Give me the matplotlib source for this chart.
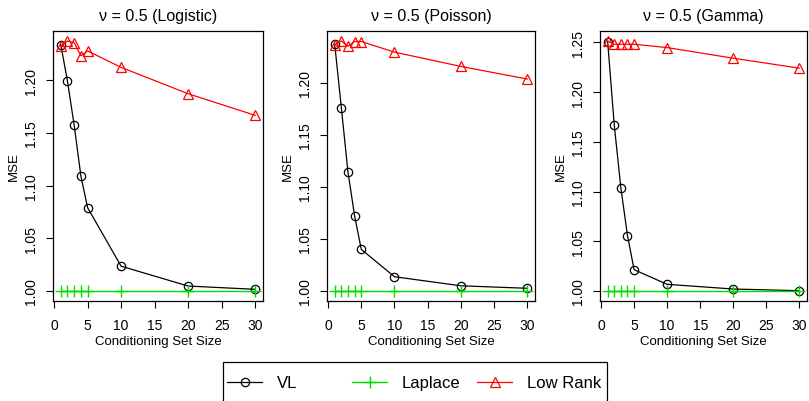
import matplotlib
matplotlib.use("Agg")
import matplotlib.pyplot as plt
import numpy as np
from matplotlib.patches import Rectangle
from matplotlib.lines import Line2D

plt.rcParams['font.family'] = ['Liberation Sans', 'DejaVu Sans']

# conditioning set sizes
m = [1, 2, 3, 4, 5, 10, 20, 30]

titles = ["ν = 0.5 (Logistic)", "ν = 0.5 (Poisson)", "ν = 0.5 (Gamma)"]

# MSE values
vl_logistic = [1.2335, 1.199, 1.157, 1.109, 1.079, 1.0235, 1.0047, 1.0016]
lr_logistic = [1.232, 1.237, 1.2355, 1.223, 1.2276, 1.212, 1.187, 1.1665]

vl_poisson = [1.237, 1.176, 1.114, 1.072, 1.040, 1.0137, 1.005, 1.0026]
lr_poisson = [1.2364, 1.240, 1.235, 1.2395, 1.2395, 1.2293, 1.2156, 1.2035]

vl_gamma = [1.2506, 1.1666, 1.1035, 1.0557, 1.0214, 1.0067, 1.002, 1.0003]
lr_gamma = [1.2513, 1.248, 1.248, 1.248, 1.248, 1.2447, 1.234, 1.224]

laplace = [1.0, 1.0, 1.0, 1.0, 1.0, 1.0, 1.0, 1.0]

vl_all = [vl_logistic, vl_poisson, vl_gamma]
lr_all = [lr_logistic, lr_poisson, lr_gamma]

fig = plt.figure(figsize=(8.09, 4.02), dpi=100)

lefts = [53, 327, 600]
widths = [210, 208, 207]
W, H = 809, 402
bottom = 1 - 302 / H
height = (302 - 32) / H

for i in range(3):
    ax = fig.add_axes([lefts[i] / W, bottom, widths[i] / W, height])
    ax.plot(m, vl_all[i], color="black", lw=0.9, marker="o", mfc="none",
            ms=6, mew=0.9)
    ax.plot(m, laplace, color="#00dd00", lw=1.0, marker="+", ms=8, mew=1.0)
    ax.plot(m, lr_all[i], color="red", lw=0.9, marker="^", mfc="none",
            ms=7, mew=0.9)

    # R style 4% axis extension
    ally = vl_all[i] + lr_all[i] + laplace
    lo, hi = min(ally), max(ally)
    pad = 0.04 * (hi - lo)
    ax.set_ylim(lo - pad, hi + pad)
    ax.set_xlim(1 - 0.04 * 29, 30 + 0.04 * 29)

    ax.set_xticks([0, 5, 10, 15, 20, 25, 30])
    ax.set_yticks(np.arange(1.0, hi + 0.001, 0.05))
    ax.yaxis.set_major_formatter(matplotlib.ticker.FormatStrFormatter("%.2f"))
    ax.tick_params(axis="both", labelsize=10, length=5, width=0.8)
    ax.tick_params(axis="x", pad=7)
    ax.tick_params(axis="y", pad=6)
    for lab in ax.get_yticklabels():
        lab.set_rotation(90)
        lab.set_va("center")
    for s in ax.spines.values():
        s.set_linewidth(0.9)

    ax.set_title(titles[i], fontsize=11.5, pad=8)
    ax.set_xlabel("Conditioning Set Size", fontsize=9.5, labelpad=2.5)
    ax.set_ylabel("MSE", fontsize=9.5, labelpad=3)

# legend with equal spacing, like R
fig.patches.append(Rectangle((223 / W, -0.05), (607 - 223) / W, 0.05 + (1 - 363 / H),
                             transform=fig.transFigure, fill=False,
                             edgecolor="black", lw=0.9))
handles = [
    Line2D([], [], color="black", lw=0.9, marker="o", mfc="none", ms=6, mew=0.9),
    Line2D([], [], color="#00dd00", lw=1.0, marker="+", ms=8, mew=1.0),
    Line2D([], [], color="red", lw=0.9, marker="^", mfc="none", ms=7, mew=0.9),
]
names = ["VL", "Laplace", "Low Rank"]
xs = [227, 352, 477]
for h, n, x in zip(handles, names, xs):
    fig.legend([h], [n], loc="center left", bbox_to_anchor=(x / W, 1 - 384 / H),
               frameon=False, fontsize=12, handlelength=2.1, handletextpad=0.9,
               borderpad=0, borderaxespad=0)

fig.savefig("out.png", dpi=100)
